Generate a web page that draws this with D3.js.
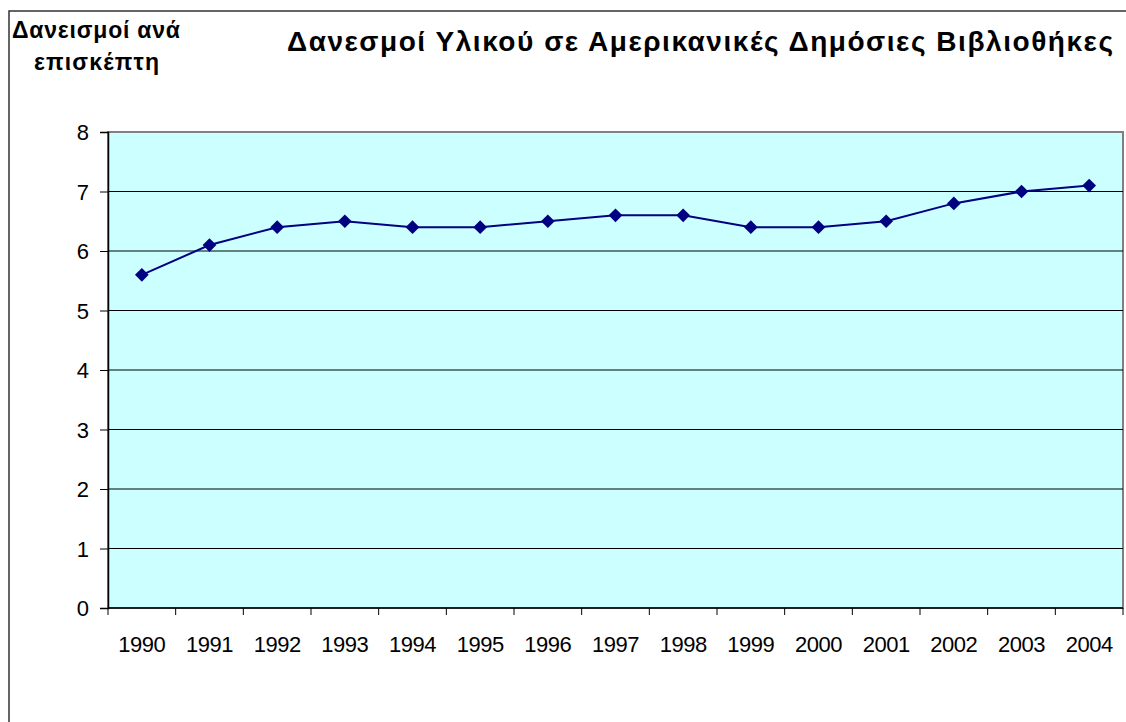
<!DOCTYPE html>
<html>
<head>
<meta charset="utf-8">
<script src="https://cdn.jsdelivr.net/npm/d3@7"></script>
<style>
  body { margin: 0; background: #fff; overflow: hidden; }
  svg { display: block; font-family: "Liberation Sans", Arial, sans-serif; }
</style>
</head>
<body>
<svg id="svg" width="1126" height="722"></svg>
<script>
var years  = ["1990","1991","1992","1993","1994","1995","1996","1997","1998","1999","2000","2001","2002","2003","2004"],
    values = [5.6, 6.1, 6.4, 6.5, 6.4, 6.4, 6.5, 6.6, 6.6, 6.4, 6.4, 6.5, 6.8, 7.0, 7.1],
    yTicks = [0,1,2,3,4,5,6,7,8];

var title  = "Δανεσμοί Υλικού σε Αμερικανικές Δημόσιες Βιβλιοθήκες",
    yTitle = ["Δανεισμοί ανά", "επισκέπτη"];

var svg = d3.select("#svg");

var L = 108, R = 1123, T = 132, B = 608;

var navy = "#000080",
    bg   = "#ccffff";

// outer chart border (runs off the window at right and bottom)
svg.append("rect").attr("x",9).attr("y",11).attr("width",1160).attr("height",760)
    .attr("fill","none").attr("stroke","#333").attr("stroke-width",1.5);

var x = d3.scaleBand().domain(years).range([L,R]);
var y = d3.scaleLinear().domain([0,8]).range([B,T]);

svg.append("rect").attr("x",L).attr("y",T).attr("width",R-L).attr("height",B-T)
    .attr("fill",bg).attr("stroke","#808080").attr("stroke-width",2);

// gridlines
svg.append("g").selectAll("line").data(yTicks.filter(d=>d>0 && d<8)).enter()
    .append("line")
    .attr("x1",L).attr("x2",R).attr("y1",d=>y(d)).attr("y2",d=>y(d))
    .attr("stroke","#000").attr("stroke-width",1);

// y axis
var yAxis = svg.append("g").attr("transform","translate("+L+",0)")
    .call(d3.axisLeft(y).tickValues(yTicks).tickSize(8).tickPadding(11).tickFormat(d3.format("d")));
yAxis.select(".domain").attr("stroke","#000").attr("stroke-width",1.5);
yAxis.selectAll("text").attr("font-size",22).attr("fill","#000").attr("dy","0.36em")
    .attr("font-family","Liberation Sans, Arial, sans-serif");

// x axis: ticks at category boundaries
var xg = svg.append("g").attr("transform","translate(0,"+B+")");
xg.append("line").attr("x1",L).attr("x2",R).attr("stroke","#000").attr("stroke-width",1.5);
xg.selectAll(".tk").data(years.concat(["end"])).enter().append("line")
    .attr("x1",(d,i)=>L+i*x.step()).attr("x2",(d,i)=>L+i*x.step())
    .attr("y1",0).attr("y2",7).attr("stroke","#000");
xg.selectAll("text").data(years).enter().append("text")
    .attr("x",d=>x(d)+x.bandwidth()/2).attr("y",44)
    .attr("text-anchor","middle").attr("font-size",22).attr("letter-spacing","-0.5px").text(d=>d);

// line + markers
var line = d3.line().x((d,i)=>x(years[i])+x.bandwidth()/2).y(d=>y(d));
svg.append("path").datum(values).attr("d",line)
    .attr("fill","none").attr("stroke",navy).attr("stroke-width",2);

svg.selectAll(".pt").data(values).enter().append("path")
    .attr("d",d3.symbol().type(d3.symbolDiamond2).size(120))
    .attr("transform",(d,i)=>"translate("+(x(years[i])+x.bandwidth()/2)+","+y(d)+")")
    .attr("fill",navy);

// titles
svg.append("text").attr("x",287).attr("y",51)
    .attr("font-size",28).attr("font-weight","bold")
    .attr("textLength",826).attr("lengthAdjust","spacing").text(title);

var yt = svg.append("g").attr("font-size",23).attr("font-weight","bold");
yt.append("text").attr("x",12).attr("y",38)
    .attr("textLength",168).attr("lengthAdjust","spacing").text(yTitle[0]);
yt.append("text").attr("x",34).attr("y",70)
    .attr("textLength",125).attr("lengthAdjust","spacing").text(yTitle[1]);
</script>
</body>
</html>
